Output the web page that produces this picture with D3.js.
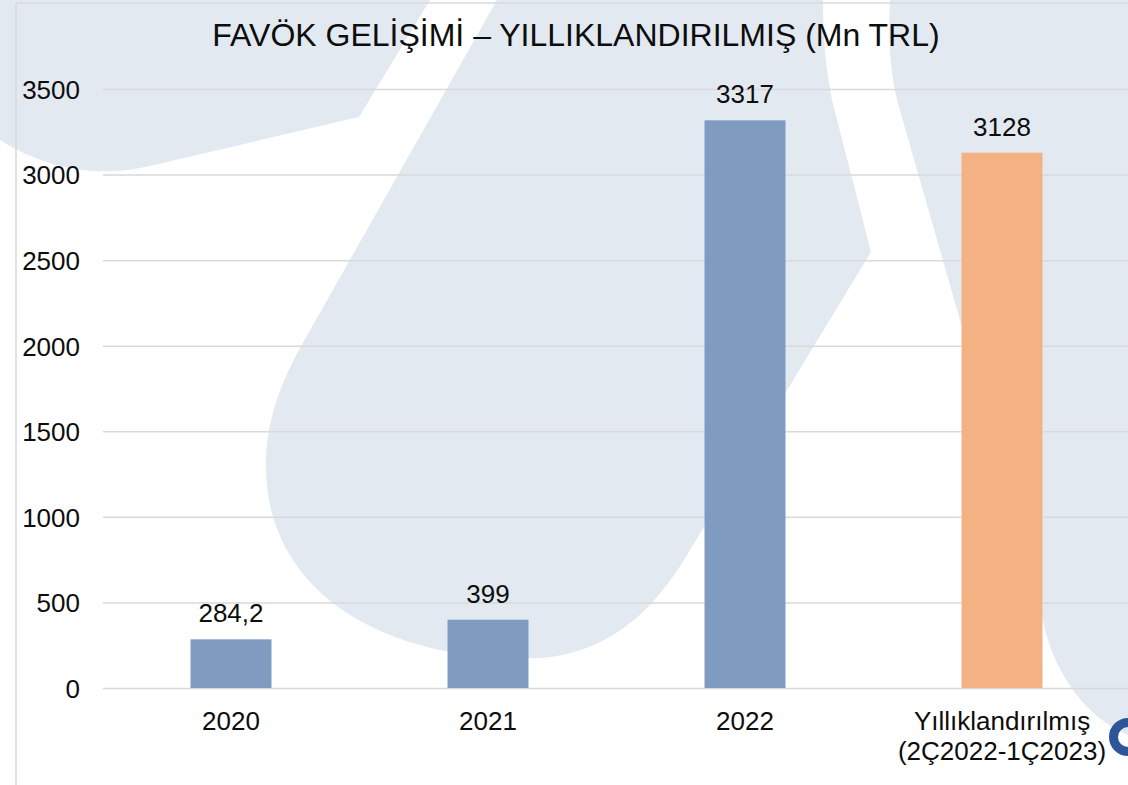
<!DOCTYPE html>
<html>
<head>
<meta charset="utf-8">
<script src="https://cdn.jsdelivr.net/npm/d3@7"></script>
<style>
  body { margin: 0; background: #fff; }
  svg { display: block; font-family: "Liberation Sans", Arial, sans-serif; }
</style>
</head>
<body>
<script>
var width = 1128,
    height = 785,
    marginLeft = 103,
    plotTop = 89,
    plotBottom = 688;

// chart data
var categories = ["2020", "2021", "2022", "Yıllıklandırılmış\n(2Ç2022-1Ç2023)"];
var values = [284.2, 399, 3317, 3128];
var valueLabels = ["284,2", "399", "3317", "3128"];
var barColors = ["#7f9cc0", "#7f9cc0", "#7f9cc0", "#f4b183"];
var yTicks = [0, 500, 1000, 1500, 2000, 2500, 3000, 3500];
var title = "FAVÖK GELİŞİMİ – YILLIKLANDIRILMIŞ (Mn TRL)";

var svg = d3.select("body").append("svg")
  .attr("width", width)
  .attr("height", height);

// decorative background shapes
var bgShapes = [
  "M0,0 L430,0 L359,117 L150,166 C120,173 90,173 60,166 C35,159 15,150 0,140 Z",
  "M497,0 L300,348 C276,392 265,430 266,470 C268,560 330,620 420,645 C460,656 500,660 540,658 C600,654 650,620 690,550 L871,252 L832,100 C826,70 823,40 823,0 Z",
  "M890,0 C888,40 890,70 897,100 L1040,600 C1045,660 1080,715 1128,735 L1128,0 Z"
];
svg.append("g").selectAll("path")
  .data(bgShapes)
  .enter().append("path")
  .attr("d", function (d) { return d; })
  .style("fill", "#e3e9f1");

// frame lines
svg.append("line")
  .attr("x1", 16).attr("x2", 16).attr("y1", 3).attr("y2", height)
  .style("stroke", "#d9d9d9").style("stroke-width", 1.5);
svg.append("line")
  .attr("x1", 16).attr("x2", width).attr("y1", 3).attr("y2", 3)
  .style("stroke", "#d9d9d9").style("stroke-width", 1.5);

var x = d3.scaleBand()
  .domain(categories)
  .range([102.5, 1130.5])
  .paddingInner(0.685)
  .paddingOuter(0.3425);

var y = d3.scaleLinear()
  .domain([0, 3500])
  .range([plotBottom, plotTop]);

// y axis with gridlines
var yAxis = svg.append("g")
  .attr("transform", "translate(" + marginLeft + ",0)")
  .call(d3.axisLeft(y)
    .tickValues(yTicks)
    .tickFormat(d3.format("d"))
    .tickSize(-(width - marginLeft))
    .tickPadding(23));
yAxis.select(".domain").remove();
yAxis.selectAll("line").style("stroke", "#d9d9d9").style("stroke-width", 1.5);
yAxis.selectAll("text")
  .style("font-size", "26px")
  .style("fill", "#0d0d0d")
  .attr("dy", "0.36em");

// bars
svg.append("g").selectAll("rect")
  .data(values)
  .enter().append("rect")
  .attr("x", function (d, i) { return x(categories[i]); })
  .attr("y", function (d) { return y(d); })
  .attr("width", x.bandwidth())
  .attr("height", function (d) { return y(0) - y(d); })
  .style("fill", function (d, i) { return barColors[i]; });

// value labels
svg.append("g").selectAll("text")
  .data(values)
  .enter().append("text")
  .attr("x", function (d, i) { return x(categories[i]) + x.bandwidth() / 2; })
  .attr("y", function (d) { return y(d) - 17; })
  .attr("text-anchor", "middle")
  .style("font-size", "26px")
  .style("fill", "#0d0d0d")
  .text(function (d, i) { return valueLabels[i]; });

// x axis labels
var xAxis = svg.append("g")
  .attr("transform", "translate(0," + plotBottom + ")")
  .call(d3.axisBottom(x).tickSize(0).tickPadding(0));
xAxis.select(".domain").remove();
xAxis.selectAll("text")
  .style("font-size", "26px")
  .style("fill", "#0d0d0d")
  .attr("y", 42)
  .attr("dy", 0)
  .each(function (d) {
    var t = d3.select(this);
    var lines = d.split("\n");
    t.text(null);
    lines.forEach(function (line, i) {
      t.append("tspan")
        .attr("x", 0)
        .attr("y", 42 + i * 30)
        .text(line);
    });
  });

// title
svg.append("text")
  .attr("x", 576)
  .attr("y", 46)
  .attr("text-anchor", "middle")
  .style("font-size", "32px")
  .style("fill", "#0d0d0d")
  .text(title);

// logo fragment at the right edge
svg.append("circle")
  .attr("cx", 1128)
  .attr("cy", 737)
  .attr("r", 14.5)
  .style("fill", "none")
  .style("stroke", "#2e5597")
  .style("stroke-width", 9);
</script>
</body>
</html>
